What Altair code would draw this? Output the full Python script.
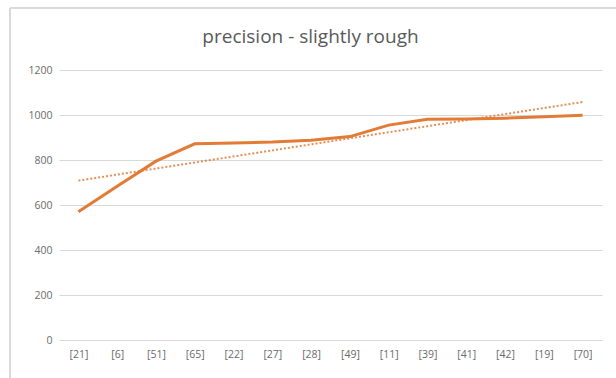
import altair as alt
import pandas as pd

# Category labels along the x axis, in plotting order
categories = ["[21]", "[6]", "[51]", "[65]", "[22]", "[27]", "[28]",
              "[49]", "[11]", "[39]", "[41]", "[42]", "[19]", "[70]"]
# Precision values per category
precision = [570, 683, 795, 872, 876, 880, 888, 904, 955, 981, 982, 986, 992, 999]
y_ticks = [0, 200, 400, 600, 800, 1000, 1200]

df = pd.DataFrame({
    "idx": list(range(1, len(categories) + 1)),
    "category": categories,
    "precision": precision,
})

orange = "#E27B36"
label_color = "#6B6B6B"
grid_color = "#D9D9D9"

label_lookup = "[" + ",".join(f"'{c}'" for c in categories) + "][datum.value - 1]"

x_enc = alt.X(
    "idx:Q",
    scale=alt.Scale(domain=[0.5, len(categories) + 0.5], nice=False, zero=False),
    axis=alt.Axis(values=list(range(1, len(categories) + 1)), labelExpr=label_lookup,
                  grid=False, domain=False, ticks=False, labelPadding=9,
                  labelColor=label_color, labelFontSize=10.5, labelFont="Open Sans",
                  title=None),
)
y_enc = alt.Y(
    "precision:Q",
    scale=alt.Scale(domain=[0, 1200], nice=False),
    axis=alt.Axis(values=y_ticks, format="d", grid=True, gridColor=grid_color, gridWidth=1,
                  domain=False, ticks=False, labelPadding=7,
                  labelColor=label_color, labelFontSize=10.5, labelFont="Open Sans",
                  title=None),
)

line = alt.Chart(df).mark_line(color=orange, strokeWidth=3).encode(x=x_enc, y=y_enc)

trend = (
    alt.Chart(df)
    .transform_regression("idx", "precision")
    .mark_line(color=orange, strokeWidth=2, strokeDash=[2, 2], opacity=0.85)
    .encode(x="idx:Q", y="precision:Q")
)

# light outer frame around the whole chart
frame = alt.Chart(df).mark_rect(fill=None, stroke=grid_color, strokeWidth=1).encode(
    x=alt.value(-49), x2=alt.value(570), y=alt.value(-62), y2=alt.value(330)
)

chart = (
    alt.layer(frame, trend, line)
    .properties(
        width=543,
        height=270,
        title=alt.TitleParams(
            "precision - slightly rough", anchor="middle", dx=-20, offset=-39,
            font="Open Sans", fontSize=19, fontWeight="normal", color="#595959",
        ),
        autosize=alt.AutoSizeParams(type="none"),
        padding={"left": 59, "top": 70, "right": 14, "bottom": 38},
        background="white",
    )
    .configure_view(stroke=None)
)

chart.save("out.html", embed_options={"renderer": "svg", "actions": False})
